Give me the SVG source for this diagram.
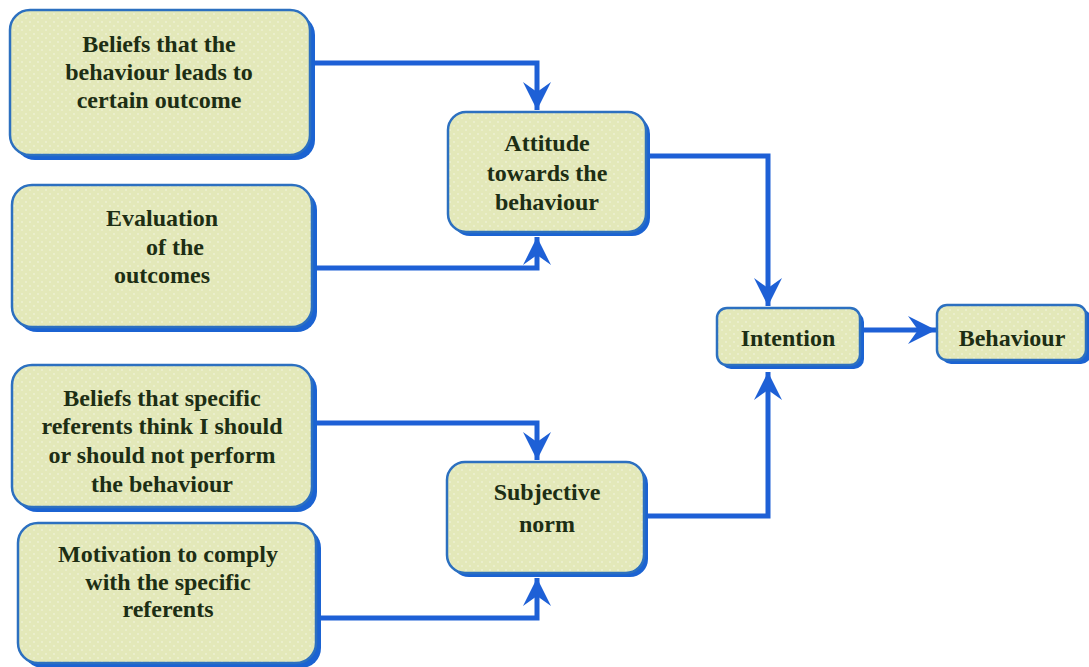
<svg xmlns="http://www.w3.org/2000/svg" width="1089" height="667" viewBox="0 0 1089 667">
<style>
.shadow{fill:#1b63d2}
.box{fill:url(#dots);stroke:#2c70c0;stroke-width:2.5}
.lbl{font-family:"Liberation Serif","Times New Roman",serif;font-weight:bold;font-size:24px;fill:#1d2e14;text-anchor:middle}
.conn{fill:none;stroke:#1e60d6;stroke-width:5;stroke-linejoin:miter}
</style>
<defs>
<pattern id="dots" width="8" height="8" patternUnits="userSpaceOnUse">
<rect width="8" height="8" fill="#e3e8b9"/>
<circle cx="2" cy="2" r="0.8" fill="#f4f6e4"/>
<circle cx="6" cy="6" r="0.8" fill="#f4f6e4"/>
</pattern>
<marker id="arr" markerUnits="userSpaceOnUse" markerWidth="30" markerHeight="30" viewBox="-30 -15 30 30" refX="0" refY="0" orient="auto">
<path d="M0,0 L-28,-14 L-18,0 L-28,14 Z" fill="#1e60d6"/>
</marker>
</defs>
<rect width="1089" height="667" fill="#ffffff"/>
<g id="connectors">
<path class="conn" d="M310,63 H537 V110" marker-end="url(#arr)"/>
<path class="conn" d="M312,268 H537 V237" marker-end="url(#arr)"/>
<path class="conn" d="M646,156 H768 V306" marker-end="url(#arr)"/>
<path class="conn" d="M645,516 H768 V372" marker-end="url(#arr)"/>
<path class="conn" d="M862,330 H936" marker-end="url(#arr)"/>
<path class="conn" d="M312,423 H537 V460" marker-end="url(#arr)"/>
<path class="conn" d="M318,618 H537 V578" marker-end="url(#arr)"/>
</g>
<g id="node-beliefs-outcome">
<rect class="shadow" x="15" y="15" width="300" height="145" rx="20"/>
<rect class="box" x="10" y="10" width="300" height="145" rx="20"/>
<text class="lbl" x="159" y="52">Beliefs that the</text>
<text class="lbl" x="159" y="80">behaviour leads to</text>
<text class="lbl" x="159" y="108">certain outcome</text>
</g>
<g id="node-evaluation">
<rect class="shadow" x="17" y="190" width="300" height="142" rx="20"/>
<rect class="box" x="12" y="185" width="300" height="142" rx="20"/>
<text class="lbl" x="162" y="226">Evaluation</text>
<text class="lbl" x="175" y="255">of the</text>
<text class="lbl" x="162" y="283">outcomes</text>
</g>
<g id="node-attitude">
<rect class="shadow" x="452" y="116" width="198" height="120" rx="18"/>
<rect class="box" x="448" y="112" width="198" height="120" rx="18"/>
<text class="lbl" x="547" y="151">Attitude</text>
<text class="lbl" x="547" y="181">towards the</text>
<text class="lbl" x="547" y="210">behaviour</text>
</g>
<g id="node-beliefs-referents">
<rect class="shadow" x="17" y="370" width="300" height="142" rx="20"/>
<rect class="box" x="12" y="365" width="300" height="142" rx="20"/>
<text class="lbl" x="162" y="406">Beliefs that specific</text>
<text class="lbl" x="162" y="434">referents think I should</text>
<text class="lbl" x="162" y="463">or should not perform</text>
<text class="lbl" x="162" y="492">the behaviour</text>
</g>
<g id="node-motivation">
<rect class="shadow" x="23" y="528" width="298" height="140" rx="20"/>
<rect class="box" x="18" y="523" width="298" height="140" rx="20"/>
<text class="lbl" x="168" y="562">Motivation to comply</text>
<text class="lbl" x="168" y="590">with the specific</text>
<text class="lbl" x="168" y="617">referents</text>
</g>
<g id="node-subjective-norm">
<rect class="shadow" x="451" y="466" width="197" height="111" rx="18"/>
<rect class="box" x="447" y="462" width="197" height="111" rx="18"/>
<text class="lbl" x="547" y="500">Subjective</text>
<text class="lbl" x="547" y="532">norm</text>
</g>
<g id="node-intention">
<rect class="shadow" x="721" y="312" width="143" height="57" rx="10"/>
<rect class="box" x="717" y="308" width="143" height="57" rx="10"/>
<text class="lbl" x="788" y="346">Intention</text>
</g>
<g id="node-behaviour">
<rect class="shadow" x="941" y="309" width="150" height="55" rx="10"/>
<rect class="box" x="937" y="305" width="149" height="55" rx="10"/>
<text class="lbl" x="1012" y="346">Behaviour</text>
</g>
</svg>
